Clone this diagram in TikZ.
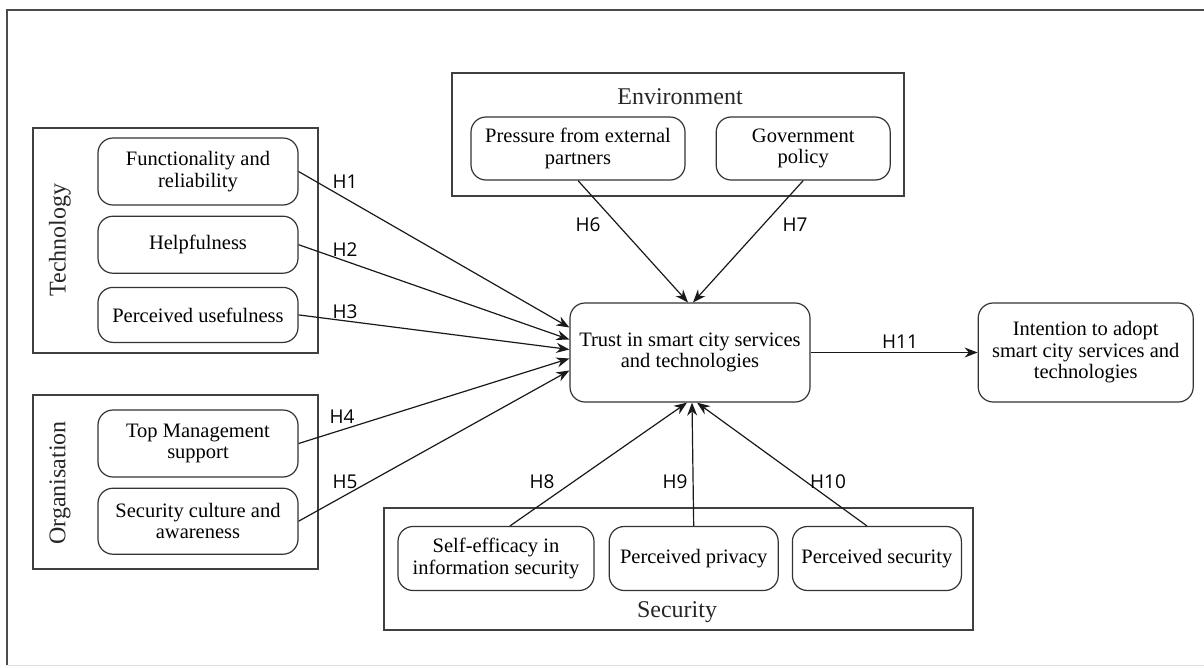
\documentclass[tikz,border=0pt]{standalone}
\usepackage{fontspec}
\setmainfont{Liberation Serif}
\newfontfamily\hypfont{Open Sans}
\usepackage{tikz}
\usetikzlibrary{arrows.meta, positioning}
\tikzset{
  factor/.style={draw=black!80, line width=1.2pt, rounded corners=15pt, align=center, inner sep=2pt, font=\fontsize{20.5}{21.5}\selectfont},
  group/.style={draw=black!75, line width=1.2pt, inner sep=0pt},
  grouplabel/.style={font=\fontsize{24}{26}\selectfont, text=black!85},
  hyp/.style={font=\hypfont\fontsize{19}{22}\selectfont},
  link/.style={->, line width=1.2pt, black!90},
}

\begin{document}
\begin{tikzpicture}[x=1pt, y=-1pt, >={Stealth[length=13pt,width=10pt]}]
\useasboundingbox (0,0) rectangle (1204,667);
% frame
\draw[black!70, line width=1.2pt] (1204,10) -- (7,10) -- (7,665);
\draw[black!12, line width=1pt] (7,665) -- (1204,665);
% groups
\node[group, minimum width=285pt, minimum height=225pt] (tech) at (175.5,240.5) {};
\node[group, minimum width=285pt, minimum height=174pt] (org) at (175.5,482) {};
\node[group, minimum width=452pt, minimum height=123pt] (env) at (678,134.5) {};
\node[group, minimum width=589pt, minimum height=122pt] (sec) at (678.5,569) {};
\node[grouplabel, rotate=90] (techlabel) at (60,240) {Technology};
\node[grouplabel, rotate=90] (orglabel) at (60,483) {Organisation};
\node[grouplabel] (envlabel) at (680,97) {Environment};
\node[grouplabel] (seclabel) at (677,612) {Security};
% technology
\node[factor, minimum width=200pt, minimum height=67pt] (func) at (198,171.5) {Functionality and\\reliability};
\node[factor, minimum width=200pt, minimum height=57pt, below=10pt of func] (help) {Helpfulness};
\node[factor, minimum width=200pt, minimum height=55pt, below=13pt of help] (useful) {Perceived usefulness};
% organisation
\node[factor, minimum width=200pt, minimum height=67pt] (topmgmt) at (198,443.5) {Top Management\\support};
\node[factor, minimum width=200pt, minimum height=66pt, below=10pt of topmgmt] (culture) {Security culture and\\awareness};
% environment
\node[factor, minimum width=214pt, minimum height=63pt] (pressure) at (578,148.5) {Pressure from external\\partners};
\node[factor, minimum width=174pt, minimum height=63pt, right=30pt of pressure] (govpolicy) {Government\\policy};
% security
\node[factor, minimum width=196pt, minimum height=64pt] (selfeff) at (496,558.5) {Self-efficacy in\\information security};
\node[factor, minimum width=169pt, minimum height=64pt, right=14pt of selfeff] (privacy) {Perceived privacy};
\node[factor, minimum width=169pt, minimum height=64pt, right=13pt of privacy] (psecurity) {Perceived security};
% trust and intention
\node[factor, minimum width=240pt, minimum height=99pt] (trust) at (690,352.5) {Trust in smart city services\\and technologies};
\node[factor, minimum width=215pt, minimum height=99pt, right=167pt of trust] (intent) {Intention to adopt\\smart city services and\\technologies};
% hypotheses
\draw[link] (func.east) -- ([yshift=25pt]trust.west);
\draw[link] (help.east) -- ([yshift=13pt]trust.west);
\draw[link] (useful.east) -- ([yshift=3pt]trust.west);
\draw[link] (topmgmt.east) -- ([yshift=-6pt]trust.west);
\draw[link] (culture.east) -- ([yshift=-18pt]trust.west);
\draw[link] (pressure.south) -- ([xshift=-2pt]trust.north);
\draw[link] (govpolicy.south) -- ([xshift=3pt]trust.north);
\draw[link] ([xshift=14pt]selfeff.north) -- ([xshift=-3pt]trust.south);
\draw[link] (privacy.north) -- ([xshift=2pt]trust.south);
\draw[link] ([xshift=-10pt]psecurity.north) -- ([xshift=7pt]trust.south);
\draw[link] (trust.east) -- (intent.west);
\node[hyp] (h1) at (345,182) {H1};
\node[hyp] (h2) at (345,250) {H2};
\node[hyp] (h3) at (345,312) {H3};
\node[hyp] (h4) at (342,417) {H4};
\node[hyp] (h5) at (345,482) {H5};
\node[hyp] (h6) at (588,225) {H6};
\node[hyp] (h7) at (795,225) {H7};
\node[hyp] (h8) at (542,482) {H8};
\node[hyp] (h9) at (675,482) {H9};
\node[hyp] (h10) at (828,482) {H10};
\node[hyp] (h11) at (900,342) {H11};
\end{tikzpicture}
\end{document}
